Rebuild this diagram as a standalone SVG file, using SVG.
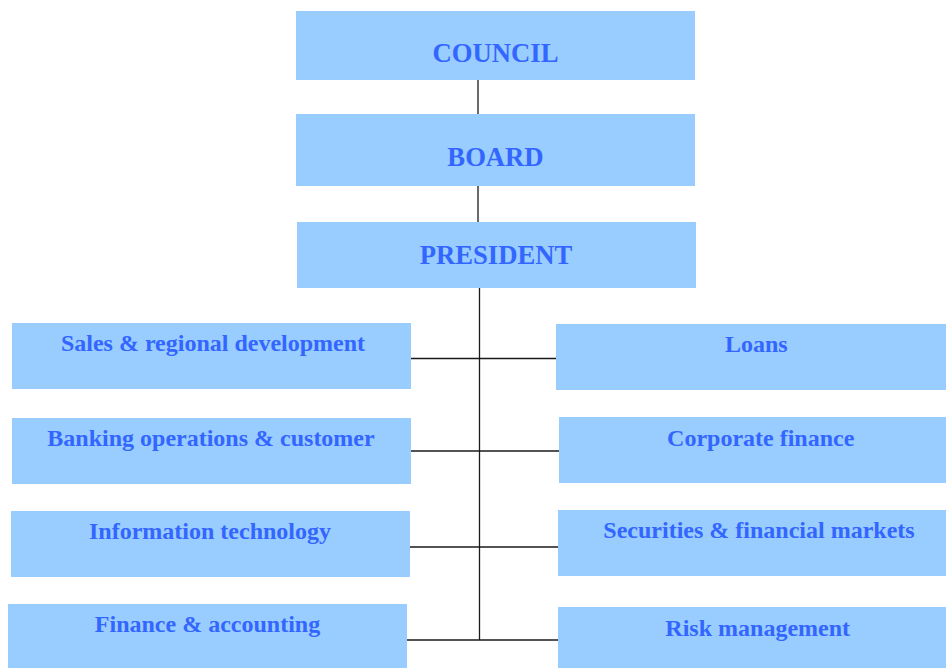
<svg xmlns="http://www.w3.org/2000/svg" width="946" height="668" viewBox="0 0 946 668">
<style>
.box{fill:#99CCFF}
.t{font-family:"Liberation Serif","Times New Roman",serif;font-weight:bold;fill:#3366FF;text-anchor:middle}
.big{font-size:26.67px}
.sm{font-size:24px}
.ln{stroke:#1a1a1a;stroke-width:1.3;fill:none}
</style>
<rect width="946" height="668" fill="#ffffff"/>
<g id="connectors">
<line class="ln" x1="478" y1="80" x2="478" y2="114"/>
<line class="ln" x1="478" y1="186" x2="478" y2="222"/>
<line class="ln" x1="479.5" y1="288" x2="479.5" y2="640"/>
<line class="ln" x1="411" y1="358.5" x2="556" y2="358.5"/>
<line class="ln" x1="409" y1="451" x2="559" y2="451"/>
<line class="ln" x1="408" y1="547" x2="558" y2="547"/>
<line class="ln" x1="406" y1="640" x2="558" y2="640"/>
</g>
<g id="council"><rect class="box" x="296" y="11" width="399" height="69"/><text class="t big" x="495.5" y="62">COUNCIL</text></g>
<g id="board"><rect class="box" x="296" y="114" width="399" height="72"/><text class="t big" x="495.5" y="166">BOARD</text></g>
<g id="president"><rect class="box" x="297" y="222" width="399" height="66"/><text class="t big" x="496" y="264">PRESIDENT</text></g>
<g id="sales"><rect class="box" x="12" y="323" width="399" height="66"/><text class="t sm" x="213" y="350.5">Sales &amp; regional development</text></g>
<g id="banking"><rect class="box" x="12" y="418" width="399" height="66"/><text class="t sm" x="211" y="446">Banking operations &amp; customer</text></g>
<g id="it"><rect class="box" x="11" y="511" width="399" height="66"/><text class="t sm" x="210" y="539">Information technology</text></g>
<g id="finance"><rect class="box" x="8" y="604" width="399" height="64"/><text class="t sm" x="207.5" y="632">Finance &amp; accounting</text></g>
<g id="loans"><rect class="box" x="556" y="324" width="404" height="66"/><text class="t sm" x="756.3" y="352">Loans</text></g>
<g id="corporate"><rect class="box" x="559" y="417" width="401" height="66"/><text class="t sm" x="760.7" y="446">Corporate finance</text></g>
<g id="securities"><rect class="box" x="558" y="510" width="402" height="66"/><text class="t sm" x="759" y="538">Securities &amp; financial markets</text></g>
<g id="risk"><rect class="box" x="558" y="607" width="402" height="61"/><text class="t sm" x="757.7" y="636">Risk management</text></g>
</svg>
